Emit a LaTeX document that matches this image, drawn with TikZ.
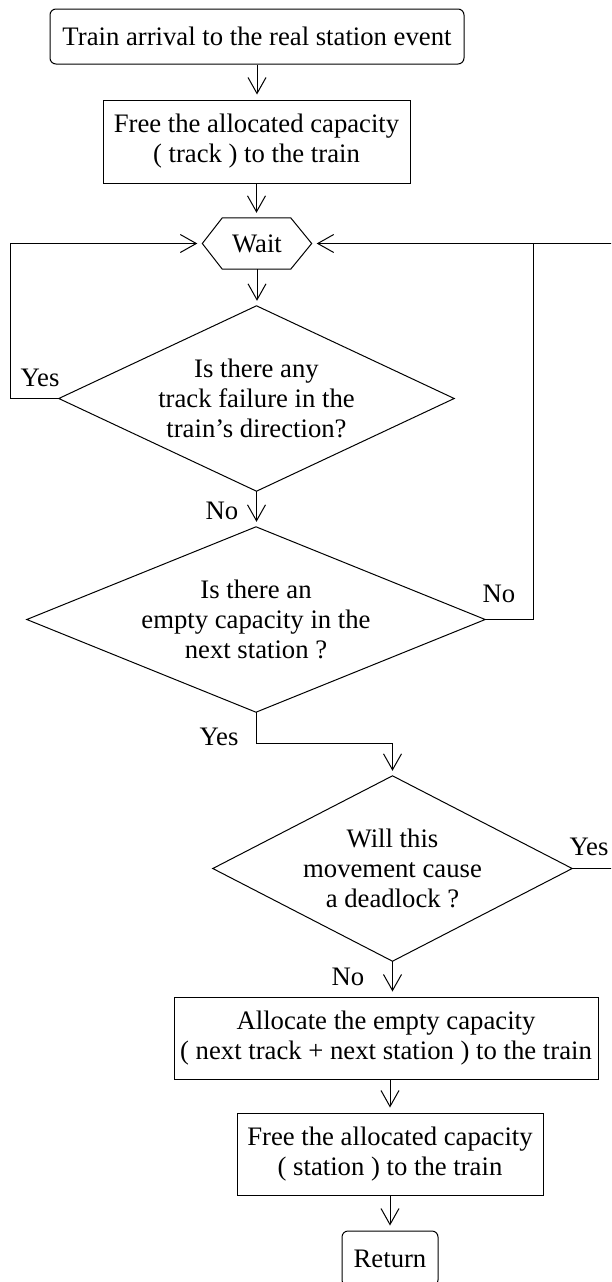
\documentclass[tikz,border=0pt]{standalone}
\usepackage{fontspec}
\setmainfont{Liberation Serif}
\usetikzlibrary{arrows.meta}
\begin{document}
\begin{tikzpicture}[x=1pt,y=-1pt,
  every node/.style={font=\fontsize{26.7}{30}\selectfont, inner sep=0pt, align=center},
  flow/.style={line width=1pt},
  arr/.style={flow, -{Straight Barb[length=16pt,width=18pt]}, shorten >=5pt},
  stepbox/.style={draw, line width=1pt, rectangle},
  terminal/.style={stepbox, rounded corners=6pt},
  decision/.style={rectangle, minimum height=185pt},
  lbl/.style={inner sep=0pt},
]
\useasboundingbox (0,0) rectangle (611,1282);
\clip (0,0) rectangle (611,1282);

% process steps
\node[terminal, minimum width=414pt, minimum height=55pt] (b1) at (257,36.5)
  {Train arrival to the real station event};
\node[stepbox, minimum width=307pt, minimum height=83pt] (b2) at (256.5,141.5)
  {Free the allocated capacity\\( track ) to the train};

% waiting state (hexagon)
\node[minimum width=109pt, minimum height=51pt] (wait) at (257,243.5) {Wait};
\draw[flow] (wait.west) -- ([xshift=20pt]wait.north west) -- ([xshift=-21pt]wait.north east)
  -- (wait.east) -- ([xshift=-21pt]wait.south east) -- ([xshift=20pt]wait.south west) -- cycle;

% decisions
\node[decision, minimum width=395pt] (d1) at (256.5,398.5)
  {Is there any\\track failure in the\\train’s direction?};
\draw[flow] (d1.north) -- (d1.east) -- (d1.south) -- (d1.west) -- cycle;

\node[decision, minimum width=458pt] (d2) at (256,619.5)
  {Is there an\\empty capacity in the\\next station ?};
\draw[flow] (d2.north) -- (d2.east) -- (d2.south) -- (d2.west) -- cycle;

\node[decision, minimum width=359pt] (d3) at (392.5,868.5)
  {Will this\\movement cause\\a deadlock ?};
\draw[flow] (d3.north) -- (d3.east) -- (d3.south) -- (d3.west) -- cycle;

\node[stepbox, minimum width=424pt, minimum height=82pt] (b3) at (386,1038)
  {Allocate the empty capacity\\( next track + next station ) to the train};
\node[stepbox, minimum width=306pt, minimum height=82pt] (b4) at (390,1154)
  {Free the allocated capacity\\( station ) to the train};
\node[terminal, minimum width=96pt, minimum height=55pt] (ret) at (390,1258.5) {Return};

% branch labels
\node[lbl] (yes1) at (40,378) {Yes};
\node[lbl] (no1) at (222,511) {No};
\node[lbl] (no2) at (499,594) {No};
\node[lbl] (yes2) at (219,737) {Yes};
\node[lbl] (yes3) at (589,847) {Yes};
\node[lbl] (no3) at (348,977) {No};

% connectors
\coordinate (junc) at (533,243.5);
\draw[arr] (b1.south) -- (b1.south |- b2.north);
\draw[arr] (b2.south) -- (b2.south |- wait.north);
\draw[arr] (wait.south) -- (wait.south |- d1.north);
\draw[arr] (d1.south) -- (d1.south |- d2.north);
\draw[arr] (d1.west) -- ++(-48,0) |- (wait.west);
\draw[flow] (d2.east) -| (junc);
\draw[arr] (d2.south) -- ++(0,31) -| (d3.north);
\draw[arr] (d3.east) -- ++(60,0) |- (wait.east);
\draw[arr] (d3.south) -- (d3.south |- b3.north);
\draw[arr] (b4.north |- b3.south) -- (b4.north);
\draw[arr] (b4.south) -- (ret.north);
\end{tikzpicture}
\end{document}
